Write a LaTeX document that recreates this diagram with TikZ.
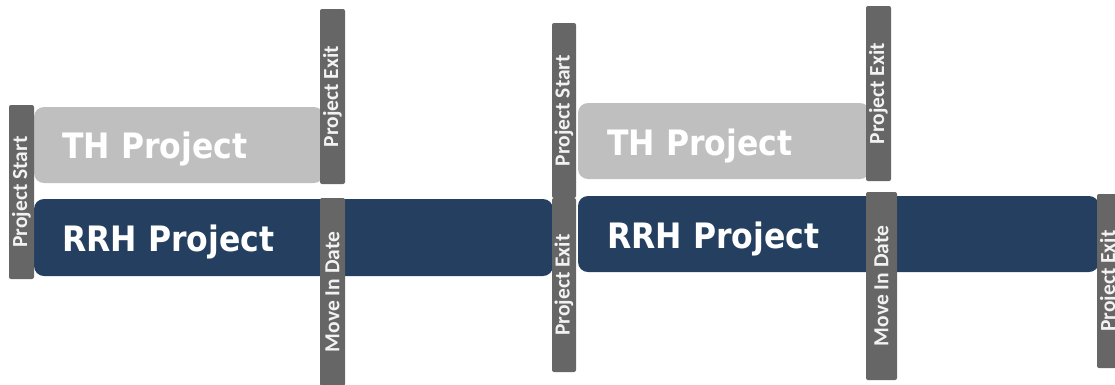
\documentclass[tikz,border=0pt]{standalone}
\usepackage{fontspec}
\newfontfamily\titlefont[FakeStretch=0.9]{DejaVu Sans}
\newfontfamily\barfont{Carlito}
\definecolor{barGray}{HTML}{666666}
\definecolor{barText}{HTML}{F2F2F2}
\definecolor{thGray}{HTML}{BFBFBF}
\definecolor{rrhBlue}{HTML}{243F60}
\tikzset{
  phase/.style={draw=none, rounded corners=10pt, inner sep=0pt},
  thbox/.style={phase, fill=thGray},
  rrhbox/.style={phase, fill=rrhBlue},
  phasetitle/.style={anchor=base west, inner sep=0pt, text=white,
    font=\titlefont\bfseries\fontsize{35}{40}\selectfont},
  milestone/.style={fill=barGray, rounded corners=2pt, rotate=90,
    inner sep=0pt, minimum height=25pt, text=barText,
    font=\barfont\bfseries\fontsize{21.5}{24}\selectfont}
}
\begin{document}
\begin{tikzpicture}[x=1pt,y=-1pt]
\useasboundingbox (0,0) rectangle (1115,384);

% project phases
\node[thbox, minimum width=290pt, minimum height=76pt] (th1) at (179,145) {};
\node[rrhbox, minimum width=519pt, minimum height=77pt] (rrh1) at (293.5,237.5) {};
\node[thbox, minimum width=292pt, minimum height=76pt] (th2) at (724,141) {};
\node[rrhbox, minimum width=521pt, minimum height=76pt] (rrh2) at (838.5,234) {};

\node[phasetitle] (th1t) at (62,158) {TH Project};
\node[phasetitle] (rrh1t) at (62,251) {RRH Project};
\node[phasetitle] (th2t) at (607,155) {TH Project};
\node[phasetitle] (rrh2t) at (607,248) {RRH Project};

% milestone markers
\node[milestone, minimum width=174pt] (startA) at (21.5,192) {Project Start};
\node[milestone, minimum width=175pt] (exitA) at (332.5,96.5) {Project Exit};
\node[milestone, minimum width=188pt] (moveA) at (332.5,292) {Move In Date};
\node[milestone, minimum width=175pt, minimum height=24pt] (startB) at (564,110.5) {Project Start};
\node[milestone, minimum width=174pt, minimum height=24pt] (exitB) at (564,285) {Project Exit};
\node[milestone, minimum width=175pt] (exitC) at (878.5,93.5) {Project Exit};
\node[milestone, minimum width=188pt, minimum height=31pt] (moveB) at (881.5,286) {Move In Date};
\node[milestone, minimum width=174pt] (exitD) at (1109.5,281) {Project Exit};
\end{tikzpicture}
\end{document}
